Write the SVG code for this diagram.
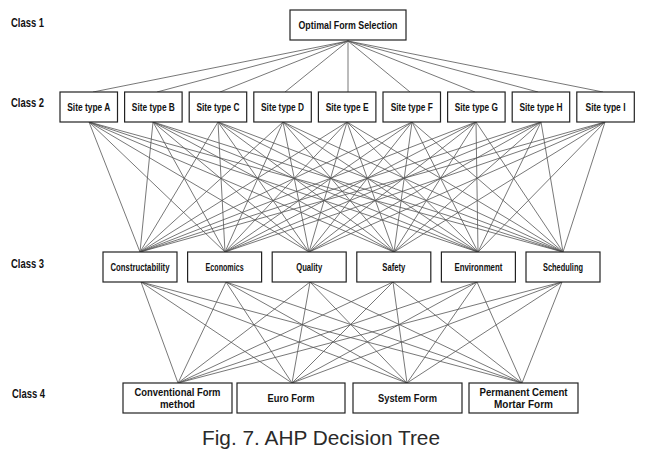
<svg xmlns="http://www.w3.org/2000/svg" width="655" height="455" viewBox="0 0 655 455">
<style>
.bg{fill:#fff}
.box{fill:#fff;stroke:#222;stroke-width:1.2}
.t{font-family:"Liberation Sans",Arial,sans-serif;font-weight:bold;font-size:10px;fill:#111;text-anchor:middle}
.cls{font-family:"Liberation Sans",Arial,sans-serif;font-weight:bold;font-size:13px;fill:#111}
.cap{font-family:"Liberation Sans",Arial,sans-serif;font-size:21px;fill:#2a2a2a}
.c line{stroke:#555;stroke-width:0.8}
</style>
<rect class="bg" width="655" height="455"/>
<g id="class-labels">
<text class="cls" x="11" y="27" textLength="33" lengthAdjust="spacingAndGlyphs">Class 1</text>
<text class="cls" x="11" y="107" textLength="33" lengthAdjust="spacingAndGlyphs">Class 2</text>
<text class="cls" x="11" y="268" textLength="33" lengthAdjust="spacingAndGlyphs">Class 3</text>
<text class="cls" x="12" y="398" textLength="33" lengthAdjust="spacingAndGlyphs">Class 4</text>
</g>
<g id="connectors" class="c">
<!-- class1 to class2 -->
<line x1="348" y1="41" x2="93" y2="92"/>
<line x1="348" y1="41" x2="157" y2="92"/>
<line x1="348" y1="41" x2="220" y2="92"/>
<line x1="348" y1="41" x2="285" y2="92"/>
<line x1="348" y1="41" x2="348" y2="92"/>
<line x1="348" y1="41" x2="410" y2="92"/>
<line x1="348" y1="41" x2="475" y2="92"/>
<line x1="348" y1="41" x2="538" y2="92"/>
<line x1="348" y1="41" x2="603" y2="92"/>
<!-- class2 to class3 -->
<g id="c2c3">
<line x1="89" y1="122" x2="140" y2="252"/><line x1="89" y1="122" x2="225" y2="252"/><line x1="89" y1="122" x2="309" y2="252"/><line x1="89" y1="122" x2="394" y2="252"/><line x1="89" y1="122" x2="478" y2="252"/><line x1="89" y1="122" x2="563" y2="252"/>
<line x1="153" y1="122" x2="140" y2="252"/><line x1="153" y1="122" x2="225" y2="252"/><line x1="153" y1="122" x2="309" y2="252"/><line x1="153" y1="122" x2="394" y2="252"/><line x1="153" y1="122" x2="478" y2="252"/><line x1="153" y1="122" x2="563" y2="252"/>
<line x1="218" y1="122" x2="140" y2="252"/><line x1="218" y1="122" x2="225" y2="252"/><line x1="218" y1="122" x2="309" y2="252"/><line x1="218" y1="122" x2="394" y2="252"/><line x1="218" y1="122" x2="478" y2="252"/><line x1="218" y1="122" x2="563" y2="252"/>
<line x1="283" y1="122" x2="140" y2="252"/><line x1="283" y1="122" x2="225" y2="252"/><line x1="283" y1="122" x2="309" y2="252"/><line x1="283" y1="122" x2="394" y2="252"/><line x1="283" y1="122" x2="478" y2="252"/><line x1="283" y1="122" x2="563" y2="252"/>
<line x1="347" y1="122" x2="140" y2="252"/><line x1="347" y1="122" x2="225" y2="252"/><line x1="347" y1="122" x2="309" y2="252"/><line x1="347" y1="122" x2="394" y2="252"/><line x1="347" y1="122" x2="478" y2="252"/><line x1="347" y1="122" x2="563" y2="252"/>
<line x1="412" y1="122" x2="140" y2="252"/><line x1="412" y1="122" x2="225" y2="252"/><line x1="412" y1="122" x2="309" y2="252"/><line x1="412" y1="122" x2="394" y2="252"/><line x1="412" y1="122" x2="478" y2="252"/><line x1="412" y1="122" x2="563" y2="252"/>
<line x1="476" y1="122" x2="140" y2="252"/><line x1="476" y1="122" x2="225" y2="252"/><line x1="476" y1="122" x2="309" y2="252"/><line x1="476" y1="122" x2="394" y2="252"/><line x1="476" y1="122" x2="478" y2="252"/><line x1="476" y1="122" x2="563" y2="252"/>
<line x1="541" y1="122" x2="140" y2="252"/><line x1="541" y1="122" x2="225" y2="252"/><line x1="541" y1="122" x2="309" y2="252"/><line x1="541" y1="122" x2="394" y2="252"/><line x1="541" y1="122" x2="478" y2="252"/><line x1="541" y1="122" x2="563" y2="252"/>
<line x1="605" y1="122" x2="140" y2="252"/><line x1="605" y1="122" x2="225" y2="252"/><line x1="605" y1="122" x2="309" y2="252"/><line x1="605" y1="122" x2="394" y2="252"/><line x1="605" y1="122" x2="478" y2="252"/><line x1="605" y1="122" x2="563" y2="252"/>
</g>
<!-- class3 to class4 -->
<g id="c3c4">
<line x1="141" y1="282" x2="178" y2="383"/><line x1="141" y1="282" x2="292" y2="383"/><line x1="141" y1="282" x2="407" y2="383"/><line x1="141" y1="282" x2="522" y2="383"/>
<line x1="226" y1="282" x2="178" y2="383"/><line x1="226" y1="282" x2="292" y2="383"/><line x1="226" y1="282" x2="407" y2="383"/><line x1="226" y1="282" x2="522" y2="383"/>
<line x1="310" y1="282" x2="178" y2="383"/><line x1="310" y1="282" x2="292" y2="383"/><line x1="310" y1="282" x2="407" y2="383"/><line x1="310" y1="282" x2="522" y2="383"/>
<line x1="393" y1="282" x2="178" y2="383"/><line x1="393" y1="282" x2="292" y2="383"/><line x1="393" y1="282" x2="407" y2="383"/><line x1="393" y1="282" x2="522" y2="383"/>
<line x1="477" y1="282" x2="178" y2="383"/><line x1="477" y1="282" x2="292" y2="383"/><line x1="477" y1="282" x2="407" y2="383"/><line x1="477" y1="282" x2="522" y2="383"/>
<line x1="562" y1="282" x2="178" y2="383"/><line x1="562" y1="282" x2="292" y2="383"/><line x1="562" y1="282" x2="407" y2="383"/><line x1="562" y1="282" x2="522" y2="383"/>
</g>
</g>
<g id="n-optimal"><rect class="box" x="290" y="10" width="116" height="30"/><text class="t" x="348" y="29" textLength="99" lengthAdjust="spacingAndGlyphs">Optimal Form Selection</text></g>
<g id="n-site-a"><rect class="box" x="60" y="92" width="57.5" height="30"/><text class="t" x="88.75" y="111" textLength="43" lengthAdjust="spacingAndGlyphs">Site type A</text></g>
<g id="n-site-b"><rect class="box" x="124.6" y="92" width="57.5" height="30"/><text class="t" x="153.35" y="111" textLength="43" lengthAdjust="spacingAndGlyphs">Site type B</text></g>
<g id="n-site-c"><rect class="box" x="189.2" y="92" width="57.5" height="30"/><text class="t" x="217.95" y="111" textLength="43" lengthAdjust="spacingAndGlyphs">Site type C</text></g>
<g id="n-site-d"><rect class="box" x="253.8" y="92" width="57.5" height="30"/><text class="t" x="282.55" y="111" textLength="43" lengthAdjust="spacingAndGlyphs">Site type D</text></g>
<g id="n-site-e"><rect class="box" x="318.4" y="92" width="57.5" height="30"/><text class="t" x="347.15" y="111" textLength="43" lengthAdjust="spacingAndGlyphs">Site type E</text></g>
<g id="n-site-f"><rect class="box" x="383" y="92" width="57.5" height="30"/><text class="t" x="411.75" y="111" textLength="42" lengthAdjust="spacingAndGlyphs">Site type F</text></g>
<g id="n-site-g"><rect class="box" x="447.6" y="92" width="57.5" height="30"/><text class="t" x="476.35" y="111" textLength="43" lengthAdjust="spacingAndGlyphs">Site type G</text></g>
<g id="n-site-h"><rect class="box" x="512.2" y="92" width="57.5" height="30"/><text class="t" x="540.95" y="111" textLength="43" lengthAdjust="spacingAndGlyphs">Site type H</text></g>
<g id="n-site-i"><rect class="box" x="576.8" y="92" width="57.5" height="30"/><text class="t" x="605.55" y="111" textLength="40" lengthAdjust="spacingAndGlyphs">Site type I</text></g>
<g id="n-constructability"><rect class="box" x="103" y="252" width="74" height="30"/><text class="t" x="140" y="270.5" textLength="59" lengthAdjust="spacingAndGlyphs">Constructability</text></g>
<g id="n-economics"><rect class="box" x="187.6" y="252" width="74" height="30"/><text class="t" x="224.6" y="270.5" textLength="38" lengthAdjust="spacingAndGlyphs">Economics</text></g>
<g id="n-quality"><rect class="box" x="272.2" y="252" width="74" height="30"/><text class="t" x="309.2" y="270.5" textLength="26" lengthAdjust="spacingAndGlyphs">Quality</text></g>
<g id="n-safety"><rect class="box" x="356.8" y="252" width="74" height="30"/><text class="t" x="393.8" y="270.5" textLength="23" lengthAdjust="spacingAndGlyphs">Safety</text></g>
<g id="n-environment"><rect class="box" x="441.4" y="252" width="74" height="30"/><text class="t" x="478.4" y="270.5" textLength="48" lengthAdjust="spacingAndGlyphs">Environment</text></g>
<g id="n-scheduling"><rect class="box" x="526" y="252" width="74" height="30"/><text class="t" x="563" y="270.5" textLength="40" lengthAdjust="spacingAndGlyphs">Scheduling</text></g>
<g id="n-conventional"><rect class="box" x="123" y="383" width="109" height="30"/><text class="t" x="177.5" y="396" textLength="86" lengthAdjust="spacingAndGlyphs">Conventional Form</text><text class="t" x="177.5" y="408" textLength="35" lengthAdjust="spacingAndGlyphs">method</text></g>
<g id="n-euro"><rect class="box" x="237" y="383" width="108" height="30"/><text class="t" x="291" y="402" textLength="47" lengthAdjust="spacingAndGlyphs">Euro Form</text></g>
<g id="n-system"><rect class="box" x="353" y="383" width="109" height="30"/><text class="t" x="407.5" y="402" textLength="59" lengthAdjust="spacingAndGlyphs">System Form</text></g>
<g id="n-permanent"><rect class="box" x="469" y="383" width="109" height="30"/><text class="t" x="523.5" y="396" textLength="88" lengthAdjust="spacingAndGlyphs">Permanent Cement</text><text class="t" x="523.5" y="408" textLength="59" lengthAdjust="spacingAndGlyphs">Mortar Form</text></g>
<text class="cap" x="202" y="445" textLength="238" lengthAdjust="spacingAndGlyphs">Fig. 7. AHP Decision Tree</text>
</svg>
